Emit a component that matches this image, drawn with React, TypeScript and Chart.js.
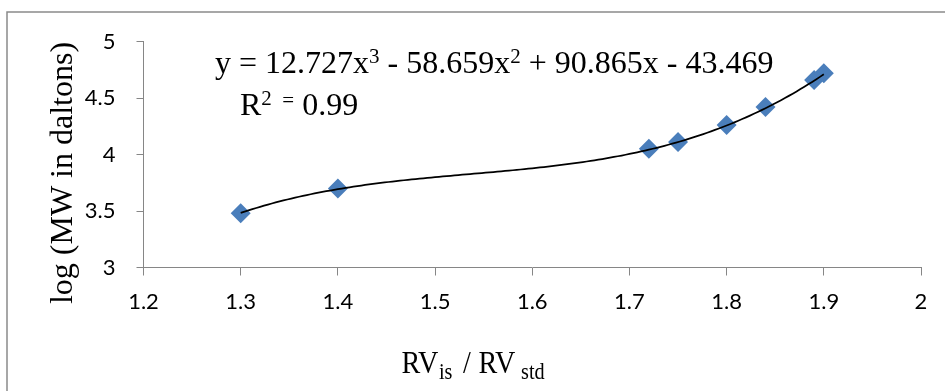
import React, { useEffect, useRef } from "react";
import { Chart, registerables } from "chart.js";

Chart.register(...registerables);

// ---- data ----
const rvRatio = [1.3, 1.4, 1.72, 1.75, 1.8, 1.84, 1.89, 1.9];
const logMW = [3.48, 3.7, 4.05, 4.11, 4.26, 4.42, 4.66, 4.72];
const xTicks = [1.2, 1.3, 1.4, 1.5, 1.6, 1.7, 1.8, 1.9, 2];
const yTicks = [3, 3.5, 4, 4.5, 5];
// cubic trendline printed on the chart: a*x^3 + b*x^2 + c*x + d
const fitCoeffs = [12.727, -58.659, 90.865, -43.469];
const fitRange = [1.3, 1.9];
const yTitle = "log (MW in daltons)";

type Run = { t: string; s: number; dy?: number; x?: number };

const SERIF = '"Liberation Serif", "Times New Roman", serif';
const TICK_FONT = "Lato";
const AXIS_GRAY = "#868686";
const MARKER = "#4A7EBB";

function drawRuns(ctx: CanvasRenderingContext2D, x: number, y: number, runs: Run[]) {
  let cx = x;
  for (const r of runs) {
    if (r.x !== undefined) cx = r.x;
    ctx.font = `${r.s}px ${SERIF}`;
    ctx.fillText(r.t, cx, y + (r.dy || 0));
    cx += ctx.measureText(r.t).width;
  }
}

const fmt = (v: number) => String(Number(Number(v).toFixed(2)));

const overlayPlugin = {
  id: "overlay",
  afterDatasetsDraw(chart: any) {
    const { ctx } = chart;
    const xs = chart.scales.x;
    const ys = chart.scales.y;
    const [a, b, c, d] = fitCoeffs;
    ctx.save();
    ctx.beginPath();
    const n = 150;
    for (let i = 0; i <= n; i++) {
      const xv = fitRange[0] + ((fitRange[1] - fitRange[0]) * i) / n;
      const yv = ((a * xv + b) * xv + c) * xv + d;
      const px = xs.getPixelForValue(xv);
      const py = ys.getPixelForValue(yv);
      if (i === 0) ctx.moveTo(px, py);
      else ctx.lineTo(px, py);
    }
    ctx.strokeStyle = "#000";
    ctx.lineWidth = 1.75;
    ctx.lineJoin = "round";
    ctx.stroke();
    ctx.restore();
  },
  afterDraw(chart: any) {
    const { ctx } = chart;
    ctx.save();
    // outer frame (only top and left edges visible)
    ctx.strokeStyle = "#8a8a8a";
    ctx.lineWidth = 1.5;
    ctx.beginPath();
    ctx.moveTo(7, 391);
    ctx.lineTo(7, 12);
    ctx.lineTo(945, 12);
    ctx.stroke();

    ctx.fillStyle = "#000";
    ctx.textAlign = "left";
    ctx.textBaseline = "alphabetic";

    // equation
    drawRuns(ctx, 215, 73, [
      { t: "y = 12.727x", s: 32 },
      { t: "3", s: 21, dy: -10 },
      { t: " - 58.659x", s: 32 },
      { t: "2", s: 21, dy: -10 },
      { t: " + 90.865x - 43.469", s: 32 },
    ]);
    drawRuns(ctx, 240, 115, [
      { t: "R", s: 32 },
      { t: "2", s: 21, dy: -10 },
      { t: "  =", s: 21, dy: -8 },
      { t: " 0.99", s: 32 },
    ]);

    // y axis title
    ctx.save();
    ctx.translate(71.5, 173);
    ctx.rotate(-Math.PI / 2);
    ctx.textAlign = "center";
    ctx.font = `32px ${SERIF}`;
    ctx.fillText(yTitle, 0, 0);
    ctx.restore();

    // x axis title (condensed glyphs)
    const sx = 0.88;
    ctx.save();
    ctx.translate(401.5, 373);
    ctx.scale(sx, 1);
    drawRuns(ctx, 0, 0, [
      { t: "RV", s: 32, x: 0 },
      { t: "is", s: 23, dy: 6, x: (439 - 401.5) / sx },
      { t: "/", s: 32, x: (463 - 401.5) / sx },
      { t: "RV", s: 32, x: (478.5 - 401.5) / sx },
      { t: "std", s: 23, dy: 6, x: (521 - 401.5) / sx },
    ]);
    ctx.restore();

    ctx.restore();
  },
};

export default function App() {
  const ref = useRef<HTMLCanvasElement | null>(null);

  useEffect(() => {
    if (!ref.current) return;
    const chart = new Chart(ref.current, {
      type: "scatter",
      data: {
        datasets: [
          {
            data: rvRatio.map((x, i) => ({ x, y: logMW[i] })),
            pointStyle: "rectRot",
            pointRadius: 10,
            pointBackgroundColor: MARKER,
            pointBorderColor: MARKER,
            pointBorderWidth: 0,
            showLine: false,
            clip: false,
          } as any,
        ],
      },
      options: {
        animation: false,
        responsive: false,
        events: [],
        layout: { padding: { left: 0, top: 41.5, right: 24, bottom: 0 } },
        plugins: { legend: { display: false }, tooltip: { enabled: false } },
        scales: {
          x: {
            type: "linear",
            min: 1.2,
            max: 2,
            afterBuildTicks: (s: any) => {
              s.ticks = xTicks.map((v) => ({ value: v }));
            },
            afterFit: (s: any) => {
              s.height = 123.5;
            },
            grid: {
              display: true,
              drawOnChartArea: false,
              drawTicks: true,
              tickLength: 8,
              color: AXIS_GRAY,
            },
            border: { display: true, color: AXIS_GRAY, width: 1 },
            ticks: {
              color: "#000",
              font: { family: TICK_FONT, size: 22 },
              padding: 13,
              maxRotation: 0,
              autoSkip: false,
              callback: (v: any) => fmt(v),
            },
          },
          y: {
            type: "linear",
            min: 3,
            max: 5,
            afterBuildTicks: (s: any) => {
              s.ticks = yTicks.map((v) => ({ value: v }));
            },
            afterFit: (s: any) => {
              s.width = 143.5;
            },
            grid: {
              display: true,
              drawOnChartArea: false,
              drawTicks: true,
              tickLength: 7,
              color: AXIS_GRAY,
            },
            border: { display: true, color: AXIS_GRAY, width: 1 },
            ticks: {
              color: "#000",
              font: { family: TICK_FONT, size: 22 },
              padding: 21,
              autoSkip: false,
              callback: (v: any) => fmt(v),
            },
          },
        },
      } as any,
      plugins: [overlayPlugin],
    });
    return () => chart.destroy();
  }, []);

  return (
    <div style={{ position: "fixed", left: 0, top: 0, width: 945, height: 391, background: "#fff" }}>
      <canvas ref={ref} width={945} height={391} style={{ width: 945, height: 391, display: "block" }} />
    </div>
  );
}
